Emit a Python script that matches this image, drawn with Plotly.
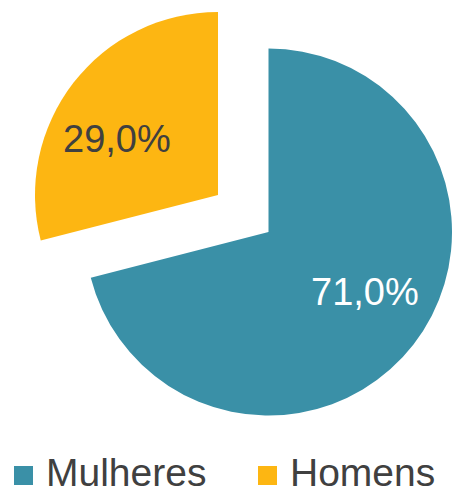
import plotly.graph_objects as go

labels = ["Mulheres", "Homens"]
values = [71.0, 29.0]
colors = ["#3A90A7", "#FDB612"]
text_colors = ["#FFFFFF", "#404040"]

W, H = 452, 495
FONT = "Liberation Sans"
CLEAR = "rgba(0,0,0,0)"


def px_dom(x0, x1, y0, y1):
    return dict(x=[x0 / W, min(x1 / W, 1.0)], y=[max(1 - y1 / H, 0.0), 1 - y0 / H])


fig = go.Figure()

# main pie: Mulheres slice visible
fig.add_trace(go.Pie(
    labels=labels, values=values, sort=False, direction="clockwise", rotation=0,
    marker=dict(colors=[colors[0], CLEAR], line=dict(width=0)),
    textinfo="none",
    domain=px_dom(85, 452, 48, 416), showlegend=False, hoverinfo="label+percent",
))

# exploded slice: Homens
fig.add_trace(go.Pie(
    labels=labels, values=values, sort=False, direction="clockwise", rotation=0,
    marker=dict(colors=[CLEAR, colors[1]], line=dict(width=0)),
    textinfo="none",
    domain=px_dom(35, 401, 12, 378), showlegend=False, hoverinfo="label+percent",
))

total = sum(values)
label_pos = [(365, 292), (117, 139)]  # pixel centres of the data labels
annotations, shapes = [], []
for i, v in enumerate(values):
    txt = f"{100 * v / total:.1f}%".replace(".", ",")
    x, y = label_pos[i]
    annotations.append(dict(xref="paper", yref="paper", x=x / W, y=1 - y / H,
                            xanchor="center", yanchor="middle", showarrow=False, text=txt,
                            font=dict(family=FONT, size=38, color=text_colors[i])))

# custom legend
legend_x = [14, 258]
for i, lab in enumerate(labels):
    x0 = legend_x[i]
    shapes.append(dict(type="rect", xref="paper", yref="paper",
                       x0=x0 / W, x1=(x0 + 19) / W, y0=1 - 485 / H, y1=1 - 466 / H,
                       fillcolor=colors[i], line=dict(width=0)))
    annotations.append(dict(xref="paper", yref="paper", x=(x0 + 31) / W, y=0,
                            xanchor="left", yanchor="bottom", showarrow=False, text=lab,
                            borderpad=0,
                            font=dict(family=FONT, size=39, color="#404040")))

fig.update_layout(
    width=W, height=H, margin=dict(l=0, r=0, t=0, b=0),
    paper_bgcolor="white", plot_bgcolor="white",
    separators=",.", shapes=shapes, annotations=annotations,
    font=dict(family=FONT),
)

fig.write_html("out.html", config={"displayModeBar": False},
               post_script="document.body.style.margin='0px';document.body.style.overflow='hidden';")
